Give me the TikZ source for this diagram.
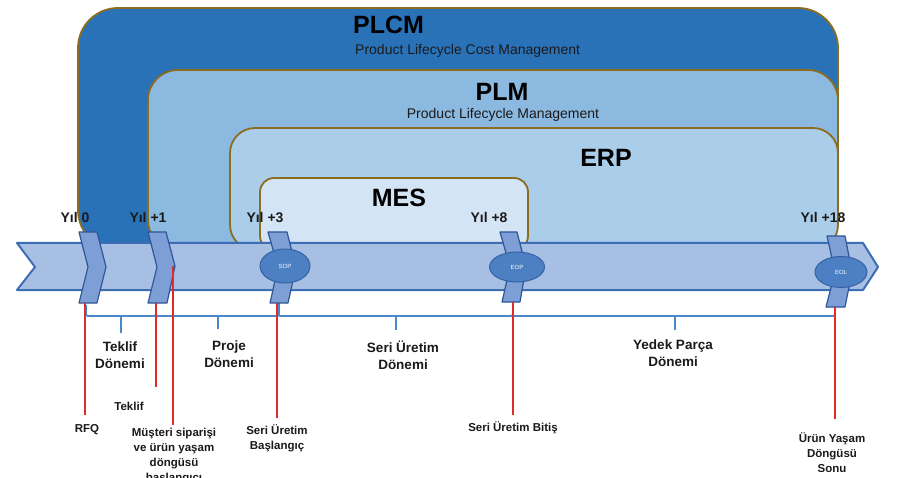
\documentclass[tikz,border=0pt]{standalone}
\usepackage{fontspec}
\setmainfont{Liberation Sans}
\usetikzlibrary{shapes.geometric}
\definecolor{plcmc}{HTML}{2A72B8}
\definecolor{plmc}{HTML}{8CB9E0}
\definecolor{erpc}{HTML}{AACDE9}
\definecolor{mesc}{HTML}{D3E5F4}
\definecolor{boxedge}{HTML}{8C6D1F}
\definecolor{tlfill}{HTML}{A7BFE3}
\definecolor{tledge}{HTML}{3D6DB5}
\definecolor{chevfill}{HTML}{7E9ED6}
\definecolor{chevedge}{HTML}{2E5597}
\definecolor{ellfill}{HTML}{4D80C2}
\definecolor{ellc}{HTML}{3563A5}
\definecolor{redc}{HTML}{E02B2B}
\definecolor{bracec}{HTML}{4A88CC}
\definecolor{txt}{HTML}{1A1A1A}
\begin{document}
\begin{tikzpicture}[x=1pt,y=-1pt,
  box/.style={draw=boxedge, line width=1.8pt},
  chev/.style={draw=chevedge, fill=chevfill, line width=1.2pt, line join=round},
  redline/.style={draw=redc, line width=2.6pt},
  bracket/.style={draw=bracec, line width=1.8pt, rounded corners=2pt},
  mile/.style={ellipse, draw=ellc, fill=ellfill, line width=1pt, inner sep=0pt, text=white, font=\fontsize{6}{7}\selectfont},
  yil/.style={font=\fontsize{14}{16}\selectfont\bfseries, inner sep=0pt, text=txt, anchor=base},
  per/.style={font=\fontsize{13.5}{17}\selectfont\bfseries, align=center, inner sep=0pt, text=txt, anchor=north},
  lab/.style={font=\fontsize{11.5}{15}\selectfont\bfseries, align=center, inner sep=0pt, text=txt},
  big/.style={font=\fontsize{25}{28}\selectfont\bfseries, inner sep=0pt, text=black, anchor=base},
  sub/.style={font=\fontsize{14}{16}\selectfont, inner sep=0pt, text=txt, anchor=base}
]
\clip (0,0) rectangle (904,478);
\fill[white] (0,0) rectangle (904,478);

% nested boxes
\draw[box, fill=plcmc, rounded corners=40pt] (78,8) rectangle (838,250);
\draw[box, fill=plmc, rounded corners=30pt] (148,70) rectangle (838,250);
\draw[box, fill=erpc, rounded corners=25pt] (230,128) rectangle (838,250);
\draw[box, fill=mesc, rounded corners=14pt] (260,178) rectangle (528,250);

\node[big, anchor=base west] (plcm) at (353,34) {PLCM};
\node[sub, anchor=base west] (plcmsub) at (355,55) {Product Lifecycle Cost Management};
\node[big] (plm) at (502,101) {PLM};
\node[sub] (plmsub) at (503,119) {Product Lifecycle Management};
\node[big] (erp) at (606,167) {ERP};
\node[big] (mes) at (399,207) {MES};

% timeline arrow
\draw[fill=tlfill, draw=tledge, line width=2pt, line join=round]
  (17,243) -- (863,243) -- (878,267) -- (863,290) -- (17,290) -- (35,267) -- cycle;

% brackets
\draw[bracket] (86,305) |- (156,316) -- (156,303);
\draw[bracket] (156,316) -| (279,303);
\draw[bracket] (279,316) -| (513,303);
\draw[bracket] (513,316) -| (835,305);
\draw[bracket] (121,316) -- (121,333);
\draw[bracket] (218,316) -- (218,329);
\draw[bracket] (396,316) -- (396,330);
\draw[bracket] (675,316) -- (675,330);

% chevrons
\draw[chev] (79,232) -- (97,232) -- (106,267) -- (97,303) -- (79,303) -- (88,267) -- cycle;
\draw[chev] (148,232) -- (166,232) -- (175,266) -- (167,303) -- (148,303) -- (157,267) -- cycle;
\draw[chev] (268,232) -- (287,232) -- (296,267) -- (288,303) -- (270,303) -- (278,267) -- cycle;
\draw[chev] (500,232) -- (517,232) -- (526,267) -- (520,302) -- (502,302) -- (510,267) -- cycle;
\draw[chev] (827,236) -- (845,236) -- (852,272) -- (845,307) -- (826,307) -- (835,272) -- cycle;

\node[mile, minimum width=50pt, minimum height=34pt] (sop) at (285,266) {SOP};
\node[mile, minimum width=55pt, minimum height=30pt] (eop) at (517,267) {EOP};
\node[mile, minimum width=52pt, minimum height=31pt] (eol) at (841,272) {EOL};

% year labels
\node[yil] (y0) at (75,223) {Yıl 0};
\node[yil] (y1) at (148,223) {Yıl +1};
\node[yil] (y3) at (265,223) {Yıl +3};
\node[yil] (y8) at (489,223) {Yıl +8};
\node[yil] (y18) at (823,223) {Yıl +18};

% period labels
\node[per] (tdon) at (120,342) {Teklif\\Dönemi};
\node[per] (pdon) at (229,341) {Proje\\Dönemi};
\node[per] (sdon) at (403,341) {Seri Üretim\\Dönemi};
\node[per] (ydon) at (673,340) {Yedek Parça\\Dönemi};

% red lines and bottom labels
\coordinate (r0a) at (85,303);  \coordinate (r0b) at (85,415);
\coordinate (r1a) at (156,303); \coordinate (r1b) at (156,387);
\coordinate (r2a) at (173,266); \coordinate (r2b) at (173,425);
\coordinate (r3a) at (277,303); \coordinate (r3b) at (277,418);
\coordinate (r4a) at (513,302); \coordinate (r4b) at (513,415);
\coordinate (r5a) at (835,307); \coordinate (r5b) at (835,419);
\draw[redline] (r0a) -- (r0b);
\draw[redline] (r1a) -- (r1b);
\draw[redline] (r2a) -- (r2b);
\draw[redline] (r3a) -- (r3b);
\draw[redline] (r4a) -- (r4b);
\draw[redline] (r5a) -- (r5b);

\node[lab, anchor=base] (rfq) at (87,432) {RFQ};
\node[lab, anchor=base] (teklif) at (129,410) {Teklif};
\node[lab, anchor=north] (musteri) at (174,428) {Müşteri siparişi\\ve ürün yaşam\\döngüsü\\başlangıcı};
\node[lab, anchor=north] (sopl) at (277,424) {Seri Üretim\\Başlangıç};
\node[lab, anchor=base] (eopl) at (513,431) {Seri Üretim Bitiş};
\node[lab, anchor=north] (eoll) at (832,432) {Ürün Yaşam\\Döngüsü\\Sonu};
\end{tikzpicture}
\end{document}
